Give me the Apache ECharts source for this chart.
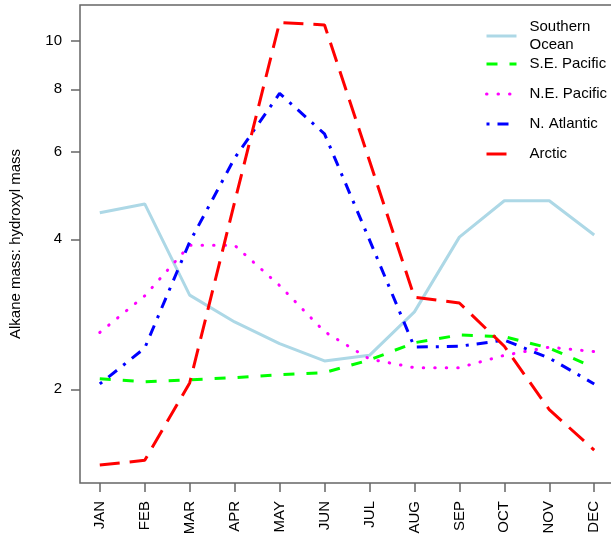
<!DOCTYPE html>
<html><head><meta charset="utf-8">
<script src="https://cdn.jsdelivr.net/npm/echarts@6/dist/echarts.min.js"></script>
<style>html,body{margin:0;padding:0;background:#fff}#c{width:611px;height:539px}</style>
</head><body><div id="c"></div>
<script>
const months = ['JAN','FEB','MAR','APR','MAY','JUN','JUL','AUG','SEP','OCT','NOV','DEC'];
const monthTicks = [0,1,2,3,4,5,6,7,8,9,10,11];
const yTicks = [2,4,6,8,10];
const southernOcean = [4.52, 4.71, 3.09, 2.73, 2.47, 2.28, 2.34, 2.86, 4.04, 4.78, 4.78, 4.08];
const sePacific     = [2.10, 2.07, 2.09, 2.11, 2.14, 2.16, 2.29, 2.48, 2.57, 2.55, 2.42, 2.21];
const nePacific     = [2.60, 3.08, 3.89, 3.89, 3.23, 2.61, 2.30, 2.21, 2.21, 2.34, 2.43, 2.38];
const nAtlantic     = [2.05, 2.42, 3.95, 5.82, 7.85, 6.51, 3.99, 2.43, 2.44, 2.51, 2.31, 2.05];
const arctic        = [1.41, 1.44, 2.06, 4.75, 10.89, 10.77, 5.75, 3.06, 2.98, 2.44, 1.82, 1.51];

const FONT = '"Liberation Sans", Arial, Helvetica, sans-serif';
const AXC = '#666';
function pairs(arr){ return arr.map((v,i)=>[monthTicks[i], v]); }
function line(name, data, color, type, cap){
  return {name, type:'line', data:pairs(data), symbol:'none', showSymbol:false,
    lineStyle:{color, width:3, type, cap: cap || 'butt'}, itemStyle:{color}};
}
const legendText = {color:'#000', fontSize:15, fontFamily:FONT, lineHeight:18, padding:[0,0,0,8]};
const chart = echarts.init(document.getElementById('c'), null, {renderer:'canvas'});
chart.setOption({
  animation:false,
  backgroundColor:'#fff',
  grid:{left:80, top:5, width:534, height:478, show:true, borderColor:AXC, borderWidth:1.5, containLabel:false, outerBoundsMode:'none'},
  xAxis:{type:'value', min:-0.44, max:11.44,
    axisLine:{show:false, onZero:false}, splitLine:{show:false},
    axisTick:{show:true, length:9, customValues:monthTicks, lineStyle:{color:AXC, width:1.5}},
    axisLabel:{customValues:monthTicks, rotate:90, margin:18, color:'#000', fontSize:15, fontFamily:FONT,
      formatter:v=>months[Math.round(v)]}},
  yAxis:{type:'log', logBase:10, min:1.297, max:11.81,
    name:'Alkane mass: hydroxyl mass', nameLocation:'middle', nameGap:57,
    nameTextStyle:{color:'#000', fontSize:15, fontFamily:FONT},
    axisLine:{show:false, onZero:false}, splitLine:{show:false}, minorTick:{show:false},
    axisTick:{show:true, length:9, customValues:yTicks, lineStyle:{color:AXC, width:1.5}},
    axisLabel:{customValues:yTicks, margin:18, color:'#000', fontSize:15, fontFamily:FONT, formatter:v=>String(v)}},
  legend:[
    {data:['Southern Ocean'], orient:'vertical', left:485, top:18, padding:0, itemWidth:30, itemHeight:14,
     itemStyle:{opacity:0}, lineStyle:{width:3},
     formatter:()=> 'Southern\nOcean', textStyle:legendText},
    {data:['S.E. Pacific','N.E. Pacific','N. Atlantic','Arctic'], orient:'vertical', left:485, top:55, padding:0,
     itemGap:12, itemWidth:30, itemHeight:14, itemStyle:{opacity:0}, lineStyle:{width:3}, textStyle:legendText}
  ],
  series:[
    line('Southern Ocean', southernOcean, '#ADD8E6', 'solid'),
    line('S.E. Pacific', sePacific, '#00FF00', [11,12]),
    line('N.E. Pacific', nePacific, '#FF00FF', [0.5,11], 'round'),
    line('N. Atlantic', nAtlantic, '#0000FF', [3,8,11,8]),
    line('Arctic', arctic, '#FF0000', [20,10])
  ]
});
</script>
</body></html>
